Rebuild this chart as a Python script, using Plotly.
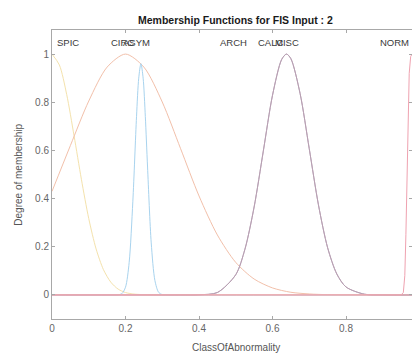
import plotly.graph_objects as go

# ---- data ----
mf_names = ["SPIC", "CIRC", "ASYM", "ARCH", "CALC", "MISC", "NORM"]

x_spic = [0, 0.02, 0.04, 0.06, 0.08, 0.10, 0.12, 0.14, 0.16, 0.18, 0.20, 0.22, 0.25, 0.30, 1.0]
y_spic = [1.0, 0.955, 0.832, 0.661, 0.480, 0.317, 0.191, 0.105, 0.053, 0.024, 0.010, 0.004, 0.001, 0, 0]

x_circ = [0, 0.05, 0.10, 0.15, 0.20, 0.25, 0.30, 0.35, 0.40, 0.45, 0.50, 0.55, 0.60, 0.65, 0.70, 0.75, 0.80, 1.0]
y_circ = [0.43, 0.62, 0.805, 0.946, 1.0, 0.946, 0.801, 0.607, 0.411, 0.249, 0.135, 0.066, 0.029, 0.011, 0.004, 0.001, 0, 0]

x_asym = [0, 0.17, 0.18, 0.19, 0.20, 0.21, 0.22, 0.23, 0.236, 0.242, 0.248, 0.254, 0.26, 0.27, 0.28, 0.29, 0.30, 0.31, 1.0]
y_asym = [0, 0, 0.0006, 0.005, 0.032, 0.135, 0.389, 0.74, 0.90, 0.96, 0.90, 0.74, 0.531, 0.216, 0.060, 0.011, 0.001, 0, 0]

x_arch = [0, 1.0]
y_arch = [0, 0]

x_calc = [0, 0.35, 0.40, 0.45, 0.50, 0.525, 0.55, 0.575, 0.60, 0.625, 0.638, 0.65, 0.675, 0.70, 0.725, 0.75, 0.775, 0.80, 0.85, 0.90, 1.0]
y_calc = [0, 0, 0.0006, 0.010, 0.084, 0.190, 0.365, 0.597, 0.829, 0.978, 1.0, 0.981, 0.837, 0.607, 0.374, 0.196, 0.087, 0.033, 0.003, 0, 0]

x_misc = x_calc
y_misc = y_calc

x_norm = [0, 0.95, 0.956, 0.960, 0.963, 0.966, 0.969, 0.972, 0.976, 0.98]
y_norm = [0, 0, 0.01, 0.08, 0.25, 0.5, 0.75, 0.92, 0.99, 1.0]

label_x = [0.044, 0.193, 0.229, 0.495, 0.594, 0.639, 0.933]
label_y = 1.05

x_ticks = [0, 0.2, 0.4, 0.6, 0.8]
y_ticks = [0, 0.2, 0.4, 0.6, 0.8, 1]

title_text = "Membership Functions for FIS Input : 2"
x_title = "ClassOfAbnormality"
y_title = "Degree of membership"

FONT = "Liberation Sans, Arial, sans-serif"

fig = go.Figure()

curves = [
    (x_spic, y_spic, "#f4e2ac", "spline"),
    (x_circ, y_circ, "#f2c0aa", "spline"),
    (x_asym, y_asym, "#a8d3ee", "spline"),
    (x_calc, y_calc, "#bba4bb", "spline"),
    (x_misc, y_misc, "#b8a0b2", "spline"),
    (x_norm, y_norm, "#efa2b0", "linear"),
    (x_arch, y_arch, "#efaaae", "linear"),
]
for xs, ys, col, shape in curves:
    fig.add_trace(go.Scatter(x=xs, y=ys, mode="lines",
                             line=dict(color=col, width=1, shape=shape, smoothing=0.8),
                             showlegend=False, hoverinfo="skip"))

for name, lx in zip(mf_names, label_x):
    fig.add_annotation(x=lx, y=label_y, xref="x", yref="y", text=name, showarrow=False,
                       font=dict(family=FONT, size=9.5, color="#3a3a3a"),
                       xanchor="center", yanchor="middle")

fig.add_annotation(x=0.5, y=1.035, xref="x", yref="paper", text="<b>" + title_text + "</b>",
                   showarrow=False, font=dict(family=FONT, size=10.5, color="#1a1a1a"),
                   xanchor="center", yanchor="middle")
fig.add_annotation(x=0.5, y=-0.097, xref="x", yref="paper", text=x_title,
                   showarrow=False, font=dict(family=FONT, size=10, color="#555555"),
                   xanchor="center", yanchor="middle")
fig.add_annotation(x=-0.094, y=0.5, xref="paper", yref="paper", text=y_title, textangle=-90,
                   showarrow=False, font=dict(family=FONT, size=10, color="#555555"),
                   xanchor="center", yanchor="middle")

axis_common = dict(showline=True, linecolor="#a8a8a8", linewidth=1, mirror="ticks",
                   ticks="inside", ticklen=3, tickcolor="#a8a8a8", showgrid=False,
                   zeroline=False, tickfont=dict(family=FONT, size=10, color="#666666"))

fig.update_xaxes(range=[0, 0.9796], tickvals=x_ticks, ticktext=[str(v) for v in x_ticks],
                 **axis_common)
fig.update_yaxes(range=[-0.1, 1.1], tickvals=y_ticks, ticktext=[str(v) for v in y_ticks],
                 **axis_common)

fig.update_layout(width=412, height=354, margin=dict(l=52, r=0, t=30, b=35),
                  paper_bgcolor="white", plot_bgcolor="white")

fig.write_html("out.html")
